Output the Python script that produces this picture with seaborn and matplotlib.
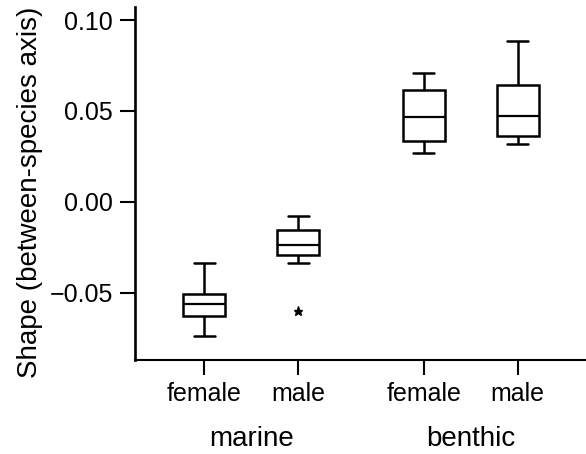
import numpy as np
import pandas as pd
import matplotlib
matplotlib.use("Agg")
import matplotlib.pyplot as plt
import seaborn as sns

# ---- data ----
habitats = ["marine", "benthic"]
sexes = ["female", "male"]
marine_female = [-0.0735, -0.0630, -0.0560, -0.0505, -0.0334]
marine_male = [-0.0600, -0.0334, -0.0294, -0.0270, -0.0235, -0.0200, -0.0156, -0.0120, -0.0077]
benthic_female = [0.0267, 0.0333, 0.0467, 0.0616, 0.0707]
benthic_male = [0.0318, 0.0362, 0.0472, 0.0645, 0.0884]
y_ticks = [-0.05, 0.00, 0.05, 0.10]
y_label = "Shape (between-species axis)"

groups = {
    ("marine", "female"): marine_female,
    ("marine", "male"): marine_male,
    ("benthic", "female"): benthic_female,
    ("benthic", "male"): benthic_male,
}
rows = []
for (hab, sex), vals in groups.items():
    for v in vals:
        rows.append({"habitat": hab, "sex": sex, "shape": v})
df = pd.DataFrame(rows)

sns.set_style("ticks")
plt.rcParams["font.family"] = ["Liberation Sans", "DejaVu Sans"]
plt.rcParams["text.color"] = "black"
plt.rcParams["axes.labelcolor"] = "black"
plt.rcParams["xtick.color"] = "black"
plt.rcParams["ytick.color"] = "black"
FS = 18
FS_LAB = 20

fig = plt.figure(figsize=(5.86, 4.54), dpi=100)
ax = fig.add_axes([0.2304, 0.2081, 0.7696, 0.7765])

group_width = 0.855
sns.boxplot(
    data=df, x="habitat", y="shape", hue="sex",
    order=habitats, hue_order=sexes,
    palette={"female": "white", "male": "white"},
    linecolor="black", linewidth=1.8,
    width=group_width, gap=0.553, dodge=True,
    fliersize=6.5,
    flierprops=dict(marker="*", markerfacecolor="black", markeredgecolor="black"),
    medianprops=dict(color="black", linewidth=1.6),
    legend=False, ax=ax,
)

ax.set_xlim(-0.53, 1.525)
ax.set_ylim(-0.0867, 0.1072)
ax.set_yticks(y_ticks)
ax.set_yticklabels([f"{t:.2f}".replace("-", "\u2212") for t in y_ticks], fontsize=FS)

off = group_width / 4
major_pos = []
major_lab = []
for i, _ in enumerate(habitats):
    major_pos += [i - off, i + off]
    major_lab += sexes
ax.set_xticks(major_pos)
ax.set_xticklabels(major_lab, fontsize=FS)
ax.set_xticks(range(len(habitats)), minor=True)
ax.set_xticklabels(habitats, minor=True, fontsize=FS_LAB)

ax.tick_params(axis="both", which="major", length=10.5, width=1.5, color="black", labelcolor="black")
ax.tick_params(axis="y", which="major", pad=5.5)
ax.tick_params(axis="x", which="major", pad=6)
ax.tick_params(axis="x", which="minor", length=0, pad=48, labelcolor="black")

ax.set_xlabel("")
ax.set_ylabel(y_label, fontsize=FS_LAB, color="black")
ax.yaxis.set_label_coords(-0.204, 0.475)

for s in ["top", "right"]:
    ax.spines[s].set_visible(False)
ax.spines["left"].set_linewidth(1.9)
ax.spines["bottom"].set_linewidth(1.5)
ax.spines["left"].set_color("black")
ax.spines["bottom"].set_color("black")

fig.savefig("out.png", dpi=100)
